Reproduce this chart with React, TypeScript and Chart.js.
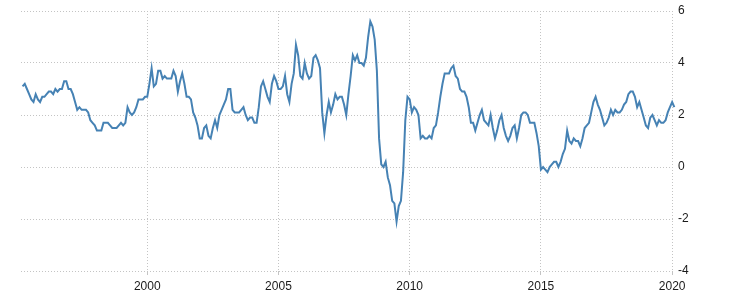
import React, { useEffect, useRef } from "react";
import { Chart, registerables } from "chart.js";

Chart.register(...registerables);

// Monthly inflation rate (%), year-on-year; first series starts in April 1995
const firstYear = 1995;
const firstMonthIndex = 3; // April
const y1995 = [3.1, 3.2, 3.0, 2.8, 2.6, 2.5, 2.8, 2.6, 2.5];
const y1996 = [2.7, 2.7, 2.8, 2.9, 2.9, 2.8, 3.0, 2.9, 3.0, 3.0, 3.3, 3.3];
const y1997 = [3.0, 3.0, 2.8, 2.5, 2.2, 2.3, 2.2, 2.2, 2.2, 2.1, 1.8, 1.7];
const y1998 = [1.6, 1.4, 1.4, 1.4, 1.7, 1.7, 1.7, 1.6, 1.5, 1.5, 1.5, 1.6];
const y1999 = [1.7, 1.6, 1.7, 2.3, 2.1, 2.0, 2.1, 2.3, 2.6, 2.6, 2.6, 2.7];
const y2000 = [2.7, 3.2, 3.8, 3.1, 3.2, 3.7, 3.7, 3.4, 3.5, 3.4, 3.4, 3.4];
const y2001 = [3.7, 3.5, 2.9, 3.3, 3.6, 3.2, 2.7, 2.7, 2.6, 2.1, 1.9, 1.6];
const y2002 = [1.1, 1.1, 1.5, 1.6, 1.2, 1.1, 1.5, 1.8, 1.5, 2.0, 2.2, 2.4];
const y2003 = [2.6, 3.0, 3.0, 2.2, 2.1, 2.1, 2.1, 2.2, 2.3, 2.0, 1.8, 1.9];
const y2004 = [1.9, 1.7, 1.7, 2.3, 3.1, 3.3, 3.0, 2.7, 2.5, 3.2, 3.5, 3.3];
const y2005 = [3.0, 3.0, 3.1, 3.5, 2.8, 2.5, 3.2, 3.6, 4.7, 4.3, 3.5, 3.4];
const y2006 = [4.0, 3.6, 3.4, 3.5, 4.2, 4.3, 4.1, 3.8, 2.1, 1.3, 2.0, 2.5];
const y2007 = [2.1, 2.4, 2.8, 2.6, 2.7, 2.7, 2.4, 2.0, 2.8, 3.5, 4.3, 4.1];
const y2008 = [4.3, 4.0, 4.0, 3.9, 4.2, 5.0, 5.6, 5.4, 4.9, 3.7, 1.1, 0.1];
const y2009 = [0.0, 0.2, -0.4, -0.7, -1.3, -1.4, -2.1, -1.5, -1.3, -0.2, 1.8, 2.7];
const y2010 = [2.6, 2.1, 2.3, 2.2, 2.0, 1.1, 1.2, 1.1, 1.1, 1.2, 1.1, 1.5];
const y2011 = [1.6, 2.1, 2.7, 3.2, 3.6, 3.6, 3.6, 3.8, 3.9, 3.5, 3.4, 3.0];
const y2012 = [2.9, 2.9, 2.7, 2.3, 1.7, 1.7, 1.4, 1.7, 2.0, 2.2, 1.8, 1.7];
const y2013 = [1.6, 2.0, 1.5, 1.1, 1.4, 1.8, 2.0, 1.5, 1.2, 1.0, 1.2, 1.5];
const y2014 = [1.6, 1.1, 1.5, 2.0, 2.1, 2.1, 2.0, 1.7, 1.7, 1.7, 1.3, 0.8];
const y2015 = [-0.1, 0.0, -0.1, -0.2, 0.0, 0.1, 0.2, 0.2, 0.0, 0.2, 0.5, 0.7];
const y2016 = [1.4, 1.0, 0.9, 1.1, 1.0, 1.0, 0.8, 1.1, 1.5, 1.6, 1.7, 2.1];
const y2017 = [2.5, 2.7, 2.4, 2.2, 1.9, 1.6, 1.7, 1.9, 2.2, 2.0, 2.2, 2.1];
const y2018 = [2.1, 2.2, 2.4, 2.5, 2.8, 2.9, 2.9, 2.7, 2.3, 2.5, 2.2, 1.9];
const y2019 = [1.6, 1.5, 1.9, 2.0, 1.8, 1.6, 1.8, 1.7, 1.7, 1.8, 2.1, 2.3];
const y2020 = [2.5, 2.3];

const yearlySeries = [
  y1995, y1996, y1997, y1998, y1999, y2000, y2001, y2002, y2003, y2004,
  y2005, y2006, y2007, y2008, y2009, y2010, y2011, y2012, y2013, y2014,
  y2015, y2016, y2017, y2018, y2019, y2020,
];

const xTickLabels = [2000, 2005, 2010, 2015, 2020];
const yTickValues = [-4, -2, 0, 2, 4, 6];

function buildPoints() {
  const pts: { x: number; y: number }[] = [];
  yearlySeries.forEach((vals, i) => {
    const year = firstYear + i;
    const offset = i === 0 ? firstMonthIndex : 0;
    vals.forEach((v, m) => {
      pts.push({ x: year + (m + offset) / 12, y: v });
    });
  });
  return pts;
}

const FONT = { family: "'Liberation Sans', Arial, sans-serif", size: 12 };
const TEXT = "#1a1a1a";
const GRID = "#c4c4c4";

export default function App() {
  const ref = useRef<HTMLCanvasElement | null>(null);

  useEffect(() => {
    if (!ref.current) return;
    const chart = new Chart(ref.current, {
      type: "line",
      data: {
        datasets: [
          {
            data: buildPoints(),
            borderColor: "#4682b4",
            borderWidth: 2,
            pointRadius: 0,
            tension: 0,
            fill: false,
            clip: false,
          } as any,
        ],
      },
      options: {
        animation: false,
        responsive: false,
        maintainAspectRatio: false,
        layout: { padding: { left: 21, top: 11, right: 0, bottom: 0 } },
        plugins: { legend: { display: false }, tooltip: { enabled: false } },
        scales: {
          x: {
            type: "linear",
            min: 1995.19,
            max: 2020.09,
            afterBuildTicks: (scale: any) => {
              scale.ticks = xTickLabels.map((v) => ({ value: v }));
            },
            afterFit: (scale: any) => {
              scale.height = 34;
            },
            ticks: {
              autoSkip: false,
              maxRotation: 0,
              padding: 4,
              font: FONT,
              color: TEXT,
              callback: (v: any) => String(v),
            },
            grid: { color: GRID, lineWidth: 1, tickLength: 4, drawTicks: true },
            border: { display: false, dash: [1, 2] },
          },
          y: {
            position: "right",
            min: -4,
            max: 6,
            afterBuildTicks: (scale: any) => {
              scale.ticks = yTickValues.map((v) => ({ value: v }));
            },
            afterFit: (scale: any) => {
              scale.width = 64.5;
            },
            ticks: { padding: 3.5, font: FONT, color: TEXT },
            grid: { color: GRID, lineWidth: 1, drawTicks: false },
            border: { display: false, dash: [1, 2] },
          },
        },
      },
    });
    return () => chart.destroy();
  }, []);

  return (
    <div style={{ position: "absolute", left: 0, top: 0, width: 739, height: 305, background: "#fff" }}>
      <canvas ref={ref} width={739} height={305} />
    </div>
  );
}
